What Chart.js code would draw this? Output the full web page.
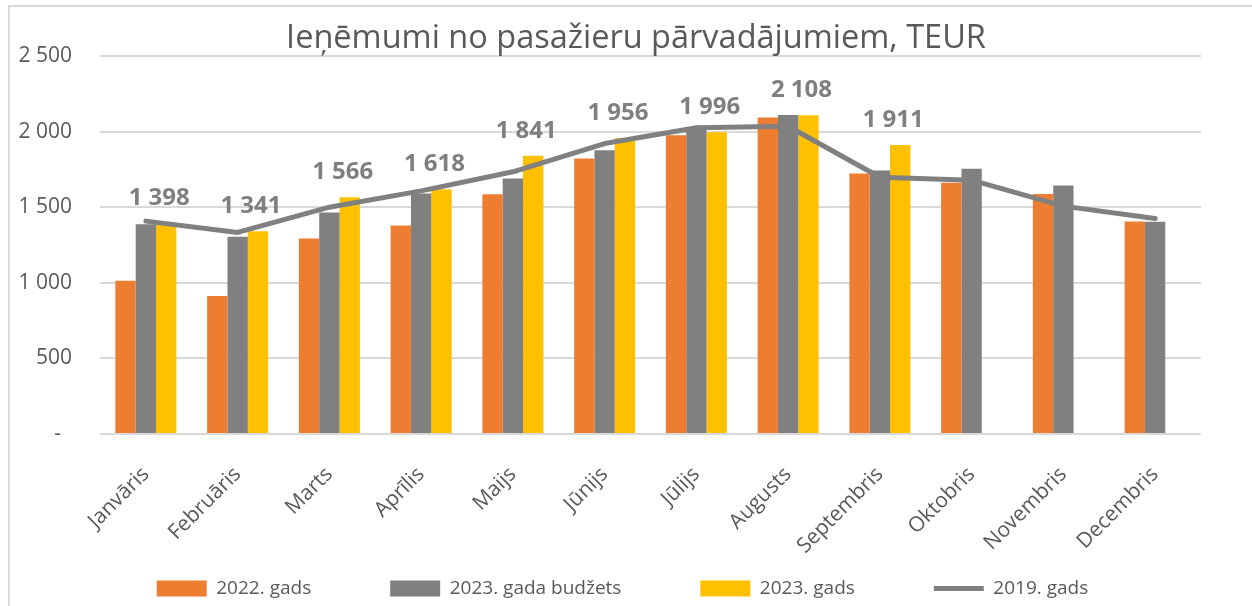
<!DOCTYPE html>
<html>
<head>
<meta charset="utf-8">
<script src="https://cdn.jsdelivr.net/npm/chart.js@4.4.1/dist/chart.umd.min.js"></script>
<style>
  html, body { margin: 0; padding: 0; background: #fff; overflow: hidden; }
  #wrap { position: relative; width: 1252px; height: 606px; overflow: hidden; }
  #frame { position: absolute; left: 8px; top: 5px; width: 1300px; height: 700px;
           border-left: 2px solid #d9d9d9; border-top: 2px solid #d9d9d9; pointer-events: none; }
  canvas { position: absolute; left: 0; top: 0; }
</style>
</head>
<body>
<div id="wrap">
  <canvas id="c" width="1252" height="608"></canvas>
  <div id="frame"></div>
</div>
<script>
const months = ["Janvāris", "Februāris", "Marts", "Aprīlis", "Maijs", "Jūnijs", "Jūlijs", "Augusts", "Septembris", "Oktobris", "Novembris", "Decembris"];
const seriesNames = ["2022. gads", "2023. gada budžets", "2023. gads", "2019. gads"];
const values2022 = [1013, 912, 1293, 1379, 1586, 1822, 1976, 2093, 1723, 1661, 1588, 1406];
const budget2023 = [1388, 1304, 1465, 1591, 1690, 1877, 2012, 2110, 1743, 1754, 1644, 1403];
const values2023 = [1398, 1341, 1566, 1618, 1841, 1956, 1996, 2108, 1911, null, null, null];
const values2019 = [1408, 1333, 1500, 1608, 1734, 1921, 2026, 2035, 1698, 1679, 1507, 1425];
const yTicks = [0, 500, 1000, 1500, 2000, 2500];
const titleText = "Ieņēmumi no pasažieru pārvadājumiem, TEUR";

const fmt = v => v === 0 ? "-  " : String(v).replace(/\B(?=(\d{3})+(?!\d))/g, " ");

const labelPlugin = {
  id: "yellowLabels",
  afterDatasetsDraw(chart) {
    const ctx = chart.ctx;
    const meta = chart.getDatasetMeta(2);
    ctx.save();
    ctx.font = "bold 24px 'Open Sans'";
    ctx.fillStyle = "#7f7f7f";
    ctx.textAlign = "center";
    ctx.textBaseline = "alphabetic";
    meta.data.forEach((bar, i) => {
      const v = values2023[i];
      if (v == null) return;
      ctx.fillText(fmt(v), bar.x - 7, bar.y - 18);
    });
    ctx.restore();
  }
};

const titlePlugin = {
  id: "centeredTitle",
  afterDraw(chart) {
    const ctx = chart.ctx;
    ctx.save();
    ctx.font = "32.5px 'Open Sans'";
    ctx.fillStyle = "#595959";
    ctx.textAlign = "center";
    ctx.textBaseline = "alphabetic";
    ctx.fillText(titleText, 636, 48);
    ctx.restore();
  }
};

const layoutTweak = {
  id: "layoutTweak",
  afterLayout(chart) {
    // legend centred like the original (offset from the y-axis label column)
    chart.legend.left += 44;
    // let the rotated month labels extend below the axis box without clipping
    chart.scales.x.bottom = chart.height;
  }
};

new Chart(document.getElementById("c"), {
  type: "bar",
  data: {
    labels: months,
    datasets: [
      { label: seriesNames[0], data: values2022, backgroundColor: "#ED7D31", order: 1, pointStyle: "rect" },
      { label: seriesNames[1], data: budget2023, backgroundColor: "#808080", order: 1, pointStyle: "rect" },
      { label: seriesNames[2], data: values2023, backgroundColor: "#FFC000", order: 1, pointStyle: "rect" },
      { label: seriesNames[3], data: values2019, type: "line", borderColor: "#808080", backgroundColor: "#808080",
        borderWidth: 5, pointRadius: 0, pointHoverRadius: 0, tension: 0, order: 0,
        borderCapStyle: "round", borderJoinStyle: "round", pointStyle: "line" }
    ]
  },
  options: {
    responsive: false,
    animation: false,
    layout: { padding: { left: 0, right: 51, top: 56, bottom: 0 } },
    datasets: { bar: { categoryPercentage: 0.665, barPercentage: 1.0 } },
    plugins: {
      tooltip: { enabled: false },
      title: { display: false },
      legend: {
        position: "bottom",
        labels: {
          usePointStyle: true, pointStyleWidth: 50, boxHeight: 16,
          color: "#595959", font: { family: "'Open Sans'", size: 19 },
          padding: 79,
          sort: (a, b) => a.datasetIndex - b.datasetIndex
        }
      }
    },
    scales: {
      x: {
        grid: { display: false, drawTicks: false },
        border: { display: false },
        ticks: { color: "#595959", font: { family: "'Open Sans'", size: 21 }, maxRotation: 45, minRotation: 45, padding: 28 },
        afterFit: s => { s.height = 66; }
      },
      y: {
        min: 0, max: 2500,
        afterBuildTicks: s => { s.ticks = yTicks.map(v => ({ value: v })); },
        grid: { color: "#d9d9d9", lineWidth: 2, drawTicks: false },
        border: { display: false },
        ticks: { color: "#595959", font: { family: "'Open Sans'", size: 21 }, padding: 28, callback: v => fmt(v) },
        afterFit: s => { s.width = 100; }
      }
    }
  },
  plugins: [labelPlugin, titlePlugin, layoutTweak]
});
</script>
</body>
</html>
